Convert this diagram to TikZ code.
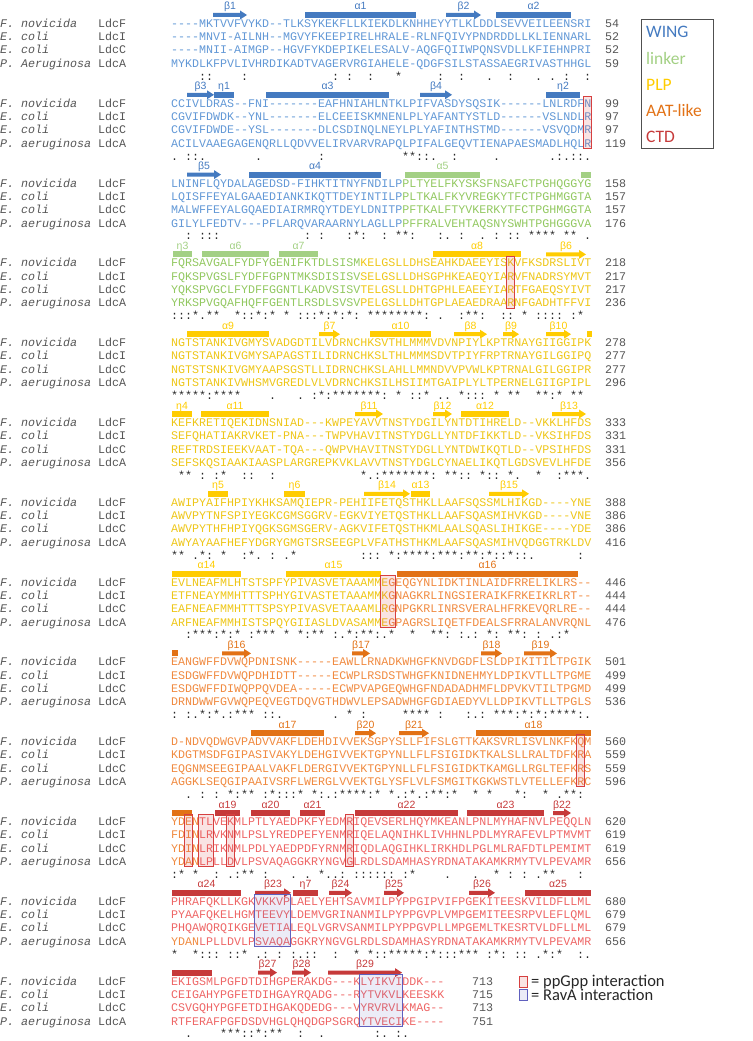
\documentclass[tikz,border=0pt]{standalone}
\usepackage{fontspec}
\setmonofont{Liberation Mono}
\newfontfamily\lblfont{Liberation Sans}
\newfontfamily\legfont{Carlito}
\usepackage{tikz}
\frenchspacing

\definecolor{wingbar}{RGB}{68,122,192}
\definecolor{wingtxt}{RGB}{98,152,214}
\definecolor{linkbar}{RGB}{163,208,132}
\definecolor{linktxt}{RGB}{146,200,96}
\definecolor{plpbar}{RGB}{255,204,0}
\definecolor{plptxt}{RGB}{238,198,24}
\definecolor{aatbar}{RGB}{226,114,22}
\definecolor{aattxt}{RGB}{240,138,64}
\definecolor{ctdbar}{RGB}{198,58,58}
\definecolor{ctdtxt}{RGB}{238,102,102}
\definecolor{namegray}{RGB}{85,85,85}
\definecolor{consgray}{RGB}{40,40,40}
\definecolor{ppred}{RGB}{214,64,64}
\definecolor{ravablue}{RGB}{96,96,190}
\definecolor{boxgray}{RGB}{80,80,80}

\tikzset{
  seq/.style={font=\ttfamily\fontsize{11.67}{13}\selectfont, anchor=base west, inner sep=0pt},
  spname/.style={seq, text=namegray, font=\ttfamily\itshape\fontsize{11.67}{13}\selectfont},
  ldc/.style={seq, text=namegray},
  num/.style={seq, text=namegray},
  cons/.style={font=\ttfamily\fontsize{11.67}{13}\selectfont, anchor=base, inner sep=0pt, text=consgray},
  sslbl/.style={font=\lblfont\fontsize{10.5}{12}\selectfont, anchor=base, inner sep=0pt},
  ppgpp/.style={draw=ppred, fill=ppred, fill opacity=0.15, line width=0.8pt},
  rava/.style={draw=ravablue, fill=ravablue, fill opacity=0.12, line width=0.8pt},
  legtxt/.style={font=\legfont\fontsize{17.5}{20}\selectfont, anchor=base west, inner sep=0pt},
  keytxt/.style={font=\legfont\fontsize{16.5}{18}\selectfont, anchor=base west, inner sep=0pt, text=black!85}
}

% domain colours of the residues
\newcommand{\sqW}[1]{\textcolor{wingtxt}{#1}}
\newcommand{\sqL}[1]{\textcolor{linktxt}{#1}}
\newcommand{\sqP}[1]{\textcolor{plptxt}{#1}}
\newcommand{\sqA}[1]{\textcolor{aattxt}{#1}}
\newcommand{\sqC}[1]{\textcolor{ctdtxt}{#1}}

% species and protein names of one block
\newcommand{\species}[2]{%
  \node[spname] (#1nF) at (0,3.4) {F. novicida};
  \node[spname] (#1nI) at (0,16.7) {E. coli};
  \node[spname] (#1nC) at (0,30) {E. coli};
  \node[spname] (#1nA) at (0,43.4) {#2};
  \node[ldc] (#1lF) at (98,3.4) {LdcF};
  \node[ldc] (#1lI) at (98,16.7) {LdcI};
  \node[ldc] (#1lC) at (98,30) {LdcC};
  \node[ldc] (#1lA) at (98,43.4) {LdcA};}

% the four sequence rows
\newcommand{\seqrows}[5]{%
  \node[seq] (#1F) at (171,3.4) {#2};
  \node[seq] (#1I) at (171,16.7) {#3};
  \node[seq] (#1C) at (171,30) {#4};
  \node[seq] (#1A) at (171,43.4) {#5};}

% residue numbers at the end of the rows
\newcommand{\seqnums}[6][605]{%
  \node[num] (#2eF) at (#1,3.4) {#3};
  \node[num] (#2eI) at (#1,16.7) {#4};
  \node[num] (#2eC) at (#1,30) {#5};
  \node[num] (#2eA) at (#1,43.4) {#6};}

% consensus line: stars, colons, dots by column
\newcommand{\conssyms}[4]{%
  \foreach \cl in {#2} {\node[cons] (#1s\cl) at ({171+(\cl-0.5)*7},56.2) {\makebox[5pt]{*}};}
  \foreach \cl in {#3} {\node[cons] (#1s\cl) at ({171+(\cl-0.5)*7},56.2) {\makebox[5pt]{:}};}
  \foreach \cl in {#4} {\node[cons] (#1s\cl) at ({171+(\cl-0.5)*7},56.2) {\makebox[5pt]{.}};}}

% helix bar and strand arrow
\newcommand{\hx}[5]{%
  \fill[#4] (#2,-12) rectangle (#3,-6);
  \node[sslbl,text=#4] (#1) at ({(#2+#3)/2},-14) {#5};}
\newcommand{\st}[5]{%
  \fill[#4] (#2,-11) -- ({#3-7},-11) -- ({#3-7},-13.5) -- (#3,-9) -- ({#3-7},-4.5) -- ({#3-7},-7) -- (#2,-7) -- cycle;
  \node[sslbl,text=#4] (#1) at ({(#2+#3)/2},-14) {#5};}

% interaction boxes over columns
\newcommand{\ppbox}[2]{\filldraw[ppgpp] ({171+(#1-1)*7-0.5},-7.5) rectangle ({171+#2*7+0.5},44.5);}
\newcommand{\ravabox}[2]{\filldraw[rava] ({171+(#1-1)*7-0.5},-7.5) rectangle ({171+#2*7+0.5},44.5);}

\begin{document}
\begin{tikzpicture}[x=1pt,y=-1pt]
\useasboundingbox (0,0) rectangle (752,1041);

  % legend of the domains
  \node[draw=boxgray, line width=0.8pt, minimum width=72pt, minimum height=129pt, anchor=north west, inner sep=0pt] (legbox) at (641,19) {};
  \node[legtxt, text=wingbar] (lgW) at (646,38) {WING};
  \node[legtxt, text=linkbar] (lgL) at (646,64) {linker};
  \node[legtxt, text=plpbar] (lgP) at (646,90) {PLP};
  \node[legtxt, text=aatbar] (lgA) at (646,116) {AAT-like};
  \node[legtxt, text=ctdbar] (lgC) at (646,142) {CTD};

  % block 1
  \begin{scope}[shift={(0,24)}]
  \species{b1}{P. Aeruginosa}
  \seqrows{b1}{\sqW{----MKTVVFVYKD--TLKSYKEKFLLKIEKDLKNHHEYYTLKLDDLSEVVEILEENSRI}}
    {\sqW{----MNVI-AILNH--MGVYFKEEPIRELHRALE-RLNFQIVYPNDRDDLLKLIENNARL}}
    {\sqW{----MNII-AIMGP--HGVFYKDEPIKELESALV-AQGFQIIWPQNSVDLLKFIEHNPRI}}
    {\sqW{MYKDLKFPVLIVHRDIKADTVAGERVRGIAHELE-QDGFSILSTASSAEGRIVASTHHGL}}
  \seqnums{b1}{54}{52}{52}{59}
  \conssyms{b1}{33}{5,6,11,24,26,29,39,42,49,57,60}{46,53,55}
  \st{s1}{213}{247}{wingbar}{β1}
  \hx{a1}{305}{416}{wingbar}{α1}
  \st{s2}{446}{481}{wingbar}{β2}
  \hx{a2}{496}{571}{wingbar}{α2}
  \end{scope}

  % block 2
  \begin{scope}[shift={(0,103.8)}]
  \species{b2}{P. aeruginosa}
  \seqrows{b2}{\sqW{CCIVLDRAS--FNI-------EAFHNIAHLNTKLPIFVASDYSQSIK------LNLRDFN}}
    {\sqW{CGVIFDWDK--YNL-------ELCEEISKMNENLPLYAFANTYSTLD------VSLNDLR}}
    {\sqW{CGVIFDWDE--YSL-------DLCSDINQLNEYLPLYAFINTHSTMD------VSVQDMR}}
    {\sqW{ACILVAAEGAGENQRLLQDVVELIRVARVRAPQLPIFALGEQVTIENAPAESMADLHQLR}}
  \seqnums{b2}{99}{97}{97}{119}
  \conssyms{b2}{34,35}{3,4,22,36,37,41,56,58,59}{1,5,13,38,47,55,57,60}
  \st{s3}{187}{214}{wingbar}{β3}
  \hx{e1}{214}{234}{wingbar}{η1}
  \hx{a3}{266}{389}{wingbar}{α3}
  \st{s4}{420}{452}{wingbar}{β4}
  \hx{e2}{546}{580}{wingbar}{η2}
  \ppbox{60}{60}
  \end{scope}

  % block 3
  \begin{scope}[shift={(0,183.6)}]
  \species{b3}{P. aeruginosa}
  \seqrows{b3}{\sqW{LNINFLQYDALAGEDSD-FIHKTITNYFNDILP}\sqL{PLTYELFKYSKSFNSAFCTPGHQGGYG}}
    {\sqW{LQISFFEYALGAAEDIANKIKQTTDEYINTILP}\sqL{PLTKALFKYVREGKYTFCTPGHMGGTA}}
    {\sqW{MALWFFEYALGQAEDIAIRMRQYTDEYLDNITP}\sqL{PFTKALFTYVKERKYTFCTPGHMGGTA}}
    {\sqW{GILYLFEDTV---PFLARQVARAARNYLAGLLP}\sqL{PFFRALVEHTAQSNYSWHTPGHGGGVA}}
  \seqnums{b3}{158}{157}{157}{176}
  \conssyms{b3}{27,33,34,52,53,54,55,57,58}{3,5,6,7,20,22,26,28,31,35,39,42,47,49,50}{40,45,60}
  \st{s5}{187}{221}{wingbar}{β5}
  \hx{a4}{249}{381}{wingbar}{α4}
  \hx{a5}{405}{480}{linkbar}{α5}
  \hx{x3}{581}{591}{linkbar}{}
  \end{scope}

  % block 4
  \begin{scope}[shift={(0,263.4)}]
  \species{b4}{P. aeruginosa}
  \seqrows{b4}{\sqL{FQRSAVGALFYDFYGENIFKTDLSISM}\sqP{KELGSLLDHSEAHKDAEEYISKVFKSDRSLIVT}}
    {\sqL{FQKSPVGSLFYDFFGPNTMKSDISISV}\sqP{SELGSLLDHSGPHKEAEQYIARVFNADRSYMVT}}
    {\sqL{YQKSPVGCLFYDFFGGNTLKADVSISV}\sqP{TELGSLLDHTGPHLEAEEYIARTFGAEQSYIVT}}
    {\sqL{YRKSPVGQAFHQFFGENTLRSDLSVSV}\sqP{PELGSLLDHTGPLAEAEDRAARNFGADHTFFVI}}
  \seqnums{b4}{218}{217}{217}{236}
  \conssyms{b4}{4,6,7,10,13,15,17,22,24,26,29,30,31,32,33,34,35,36,43,44,51,59}{1,2,3,11,12,14,19,20,21,23,25,27,37,42,45,48,49,53,54,55,56,58}{5,39}
  \hx{e3}{173}{192}{linkbar}{η3}
  \hx{a6}{202}{269}{linkbar}{α6}
  \hx{a7}{279}{318}{linkbar}{α7}
  \hx{a8}{433}{521}{plpbar}{α8}
  \st{s6}{546}{586}{plpbar}{β6}
  \ppbox{49}{49}
  \end{scope}

  % block 5
  \begin{scope}[shift={(0,343.2)}]
  \species{b5}{P. aeruginosa}
  \seqrows{b5}{\sqP{NGTSTANKIVGMYSVADGDTILVDRNCHKSVTHLMMMVDVNPIYLKPTRNAYGIIGGIPK}}
    {\sqP{NGTSTANKIVGMYSAPAGSTILIDRNCHKSLTHLMMMSDVTPIYFRPTRNAYGILGGIPQ}}
    {\sqP{NGTSTSNKIVGMYAAPSGSTLLIDRNCHKSLAHLLMMNDVVPVWLKPTRNALGILGGIPR}}
    {\sqP{NGTSTANKIVWHSMVGREDLVLVDRNCHKSILHSIIMTGAIPLYLTPERNELGIIGPIPL}}
  \seqnums{b5}{278}{277}{277}{296}
  \conssyms{b5}{1,2,3,4,5,7,8,9,10,22,24,25,26,27,28,29,30,33,37,42,47,49,50,53,54,56,58,59}{6,21,23,31,35,36,43,44,45,55}{15,19,39,40}
  \hx{a9}{187}{269}{plpbar}{α9}
  \st{s7}{319}{340}{plpbar}{β7}
  \hx{a10}{370}{431}{plpbar}{α10}
  \st{s8}{454}{487}{plpbar}{β8}
  \st{s9}{503}{519}{plpbar}{β9}
  \st{s10}{546}{571}{plpbar}{β10}
  \hx{x5}{587}{592}{plpbar}{}
  \end{scope}

  % block 6
  \begin{scope}[shift={(0,423)}]
  \species{b6}{P. aeruginosa}
  \seqrows{b6}{\sqP{KEFKRETIQEKIDNSNIAD---KWPEYAVVTNSTYDGILYNTDTIHRELD--VKKLHFDS}}
    {\sqP{SEFQHATIAKRVKET-PNA---TWPVHAVITNSTYDGLLYNTDFIKKTLD--VKSIHFDS}}
    {\sqP{REFTRDSIEEKVAAT-TQA---QWPVHAVITNSTYDGLLYNTDWIKQTLD--VPSIHFDS}}
    {\sqP{SEFSKQSIAAKIAASPLARGREPKVKLAVVTNSTYDGLCYNAELIKQTLGDSVEVLHFDE}}
  \seqnums{b6}{333}{331}{331}{356}
  \conssyms{b6}{2,3,8,28,31,32,33,34,35,36,37,40,41,45,49,53,57,58,59}{5,7,11,12,15,30,38,42,43,46,47,56}{29,50,60}
  \hx{e4}{172}{192}{plpbar}{η4}
  \hx{a11}{201}{269}{plpbar}{α11}
  \st{s11}{355}{383}{plpbar}{β11}
  \st{s12}{433}{452}{plpbar}{β12}
  \hx{a12}{461}{509}{plpbar}{α12}
  \st{s13}{552}{586}{plpbar}{β13}
  \end{scope}

  % block 7
  \begin{scope}[shift={(0,502.8)}]
  \species{b7}{P. aeruginosa}
  \seqrows{b7}{\sqP{AWIPYAIFHPIYKHKSAMQIEPR-PEHIIFETQSTHKLLAAFSQSSMLHIKGD----YNE}}
    {\sqP{AWVPYTNFSPIYEGKCGMSGGRV-EGKVIYETQSTHKLLAAFSQASMIHVKGD----VNE}}
    {\sqP{AWVPYTHFHPIYQGKSGMSGERV-AGKVIFETQSTHKMLAALSQASLIHIKGE----YDE}}
    {\sqP{AWYAYAAFHEFYDGRYGMGTSRSEEGPLVFATHSTHKMLAAFSQASMIHVQDGGTRKLDV}}
  \seqnums{b7}{388}{386}{386}{416}
  \conssyms{b7}{1,2,5,8,12,18,32,34,35,36,37,39,40,41,43,44,46,49}{6,11,15,28,29,30,33,38,42,45,47,48,50,51,59}{4,13,17,52}
  \hx{e5}{208}{228}{plpbar}{η5}
  \hx{e6}{284}{305}{plpbar}{η6}
  \st{s14}{364}{410}{plpbar}{β14}
  \hx{a13}{411}{430}{plpbar}{α13}
  \st{s15}{489}{529}{plpbar}{β15}
  \end{scope}

  % block 8
  \begin{scope}[shift={(0,582.6)}]
  \species{b8}{P. aeruginosa}
  \seqrows{b8}{\sqP{EVLNEAFMLHTSTSPFYPIVASVETAAAMME}\sqA{GEQGYNLIDKTINLAIDFRRELIKLRS--}}
    {\sqP{ETFNEAYMMHTTTSPHYGIVASTETAAAMMK}\sqA{GNAGKRLINGSIERAIKFRKEIKRLRT--}}
    {\sqP{EAFNEAFMMHTTTSPSYPIVASVETAAAMLR}\sqA{GNPGKRLINRSVERALHFRKEVQRLRE--}}
    {\sqP{ARFNEAFMMHISTSPQYGIIASLDVASAMME}\sqA{GPAGRSLIQETFDEALSFRRALANVRQNL}}
  \seqnums{b8}{446}{444}{444}{476}
  \conssyms{b8}{4,5,6,8,10,13,14,15,17,19,21,22,26,28,29,32,35,38,39,46,49,50,57}{3,7,9,12,20,24,27,30,40,42,44,47,51,53,56}{25,31,43,55}
  \hx{a14}{172}{241}{plpbar}{α14}
  \hx{a15}{286}{381}{plpbar}{α15}
  \hx{a16}{397}{578}{aatbar}{α16}
  \ppbox{31}{32}
  \end{scope}

  % block 9
  \begin{scope}[shift={(0,662.4)}]
  \species{b9}{P. aeruginosa}
  \seqrows{b9}{\sqA{EANGWFFDVWQPDNISNK-----EAWLLRNADKWHGFKNVDGDFLSLDPIKITILTPGIK}}
    {\sqA{ESDGWFFDVWQPDHIDTT-----ECWPLRSDSTWHGFKNIDNEHMYLDPIKVTLLTPGME}}
    {\sqA{ESDGWFFDIWQPPQVDEA-----ECWPVAPGEQWHGFNDADADHMFLDPVKVTILTPGMD}}
    {\sqA{DRNDWWFGVWQPEQVEGTDQVGTHDWVLEPSADWHGFGDIAEDYVLLDPIKVTLLTPGLS}}
  \seqnums{b9}{501}{499}{499}{536}
  \conssyms{b9}{5,7,10,11,12,26,34,35,36,37,47,48,49,51,53,55,56,57,58}{1,3,6,9,14,15,28,39,43,45,50,52,54,59}{4,8,16,24,44,60}
  \hx{x9}{172}{178}{aatbar}{}
  \st{s16}{222}{251}{aatbar}{β16}
  \st{s17}{352}{370}{aatbar}{β17}
  \st{s18}{481}{502}{aatbar}{β18}
  \st{s19}{524}{557}{aatbar}{β19}
  \end{scope}

  % block 10
  \begin{scope}[shift={(0,742.2)}]
  \species{b10}{P. aeruginosa}
  \seqrows{b10}{\sqA{D-NDVQDWGVPADVVAKFLDEHDIVVEKSGPYSLLFIFSLGTTKAKSVRLISVLNKFKQM}}
    {\sqA{KDGTMSDFGIPASIVAKYLDEHGIVVEKTGPYNLLFLFSIGIDKTKALSLLRALTDFKRA}}
    {\sqA{EQGNMSEEGIPAALVAKFLDERGIVVEKTGPYNLLFLFSIGIDKTKAMGLLRGLTEFKRS}}
    {\sqA{AGGKLSEQGIPAAIVSRFLWERGLVVEKTGLYSFLVLFSMGITKGKWSTLVTELLEFKRC}}
  \seqnums{b10}{560}{559}{559}{596}
  \conssyms{b10}{9,11,12,15,19,21,25,26,27,28,30,32,35,38,39,41,44,46,50,54,57,58}{5,7,10,14,16,17,18,22,24,29,34,37,40,51,59}{3,23,33,36,56}
  \hx{a17}{251}{324}{aatbar}{α17}
  \st{s20}{355}{376}{aatbar}{β20}
  \st{s21}{399}{429}{aatbar}{β21}
  \hx{a18}{476}{591}{aatbar}{α18}
  \ppbox{59}{59}
  \end{scope}

  % block 11
  \begin{scope}[shift={(0,822)}]
  \species{b11}{P. aeruginosa}
  \seqrows{b11}{\sqA{YDEN}\sqC{TLVEKMLPTLYAEDPKFYEDMRIQEVSERLHQYMKEANLPNLMYHAFNVLPEQQLN}}
    {\sqA{FDIN}\sqC{LRVKNMLPSLYREDPEFYENMRIQELAQNIHKLIVHHNLPDLMYRAFEVLPTMVMT}}
    {\sqA{YDIN}\sqC{LRIKNMLPDLYAEDPDFYRNMRIQDLAQGIHKLIRKHDLPGLMLRAFDTLPEMIMT}}
    {\sqA{YDAN}\sqC{LPLLDVLPSVAQAGGKRYNGVGLRDLSDAMHASYRDNATAKAMKRMYTVLPEVAMR}}
  \seqnums{b11}{620}{619}{619}{656}
  \conssyms{b11}{2,4,11,12,22,35,47,54,55}{1,7,10,14,25,27,28,29,30,31,32,34,49,51,59}{9,18,20,23,24,40,44,53}
  \hx{x11}{172}{192}{aatbar}{}
  \hx{a19}{215}{240}{ctdbar}{α19}
  \hx{a20}{251}{290}{ctdbar}{α20}
  \hx{a21}{300}{325}{ctdbar}{α21}
  \hx{a22}{355}{458}{ctdbar}{α22}
  \hx{a23}{467}{544}{ctdbar}{α23}
  \st{s22}{553}{571}{ctdbar}{β22}
  \ppbox{3}{3}
  \ppbox{5}{6}
  \ppbox{9}{9}
  \ppbox{26}{26}
  \end{scope}

  % block 12
  \begin{scope}[shift={(0,901.8)}]
  \species{b12}{P. aeruginosa}
  \seqrows{b12}{\sqC{PHRAFQKLLKGKVKKVPLAELYEHTSAVMILPYPPGIPVIFPGEKITEESKVILDFLLML}}
    {\sqC{PYAAFQKELHGMTEEVYLDEMVGRINANMILPYPPGVPLVMPGEMITEESRPVLEFLQML}}
    {\sqC{PHQAWQRQIKGEVETIALEQLVGRVSANMILPYPPGVPLLMPGEMLTKESRTVLDFLLML}}
    {\sqA{YDAN}\sqC{LPLLDVLPSVAQAGGKRYNGVGLRDLSDAMHASYRDNATAKAMKRMYTVLPEVAMR}}
  \seqnums{b12}{680}{679}{679}{656}
  \conssyms{b12}{1,4,11,27,29,32,33,34,35,36,38,42,43,44,47,54,56}{5,6,7,9,10,14,16,18,20,21,24,30,31,37,39,40,41,46,48,50,51,55,59}{13,19,53,60}
  \hx{a24}{172}{241}{ctdbar}{α24}
  \st{s23}{255}{291}{ctdbar}{β23}
  \hx{e7}{293}{318}{ctdbar}{η7}
  \st{s24}{329}{352}{ctdbar}{β24}
  \st{s25}{384}{404}{ctdbar}{β25}
  \st{s26}{469}{495}{ctdbar}{β26}
  \hx{a25}{525}{591}{ctdbar}{α25}
  \ravabox{13}{17}
  \end{scope}

  % block 13 and key of the boxes
  \begin{scope}[shift={(0,981.6)}]
  \species{b13}{P. aeruginosa}
  \seqrows{b13}{\sqC{EKIGSMLPGFDTDIHGPERAKDG---KLYIKVIDDK---}}
    {\sqC{CEIGAHYPGFETDIHGAYRQADG---RYTVKVLKEESKK}}
    {\sqC{CSVGQHYPGFETDIHGAKQDEDG---VYRVRVLKMAG--}}
    {\sqC{RTFERAFPGFDSDVHGLQHQDGPSGRQYTVECIKE----}}
  \seqnums[472]{b13}{713}{715}{713}{751}
  \conssyms{b13}{8,9,10,13,15,16}{11,12,14,19,30,33}{3,22,31,34}
  \hx{x13}{172}{212}{ctdbar}{}
  \st{s27}{258}{277}{ctdbar}{β27}
  \st{s28}{292}{311}{ctdbar}{β28}
  \st{s29}{328}{402}{ctdbar}{β29}
  \ravabox{28}{33}
  \filldraw[ppgpp] (519,-5.5) rectangle (527,5.5);
  \node[keytxt] (keypp) at (531,5) {= ppGpp interaction};
  \filldraw[rava] (519,8) rectangle (527,19);
  \node[keytxt] (keyrv) at (531,18.5) {= RavA interaction};
  \end{scope}
\end{tikzpicture}
\end{document}
